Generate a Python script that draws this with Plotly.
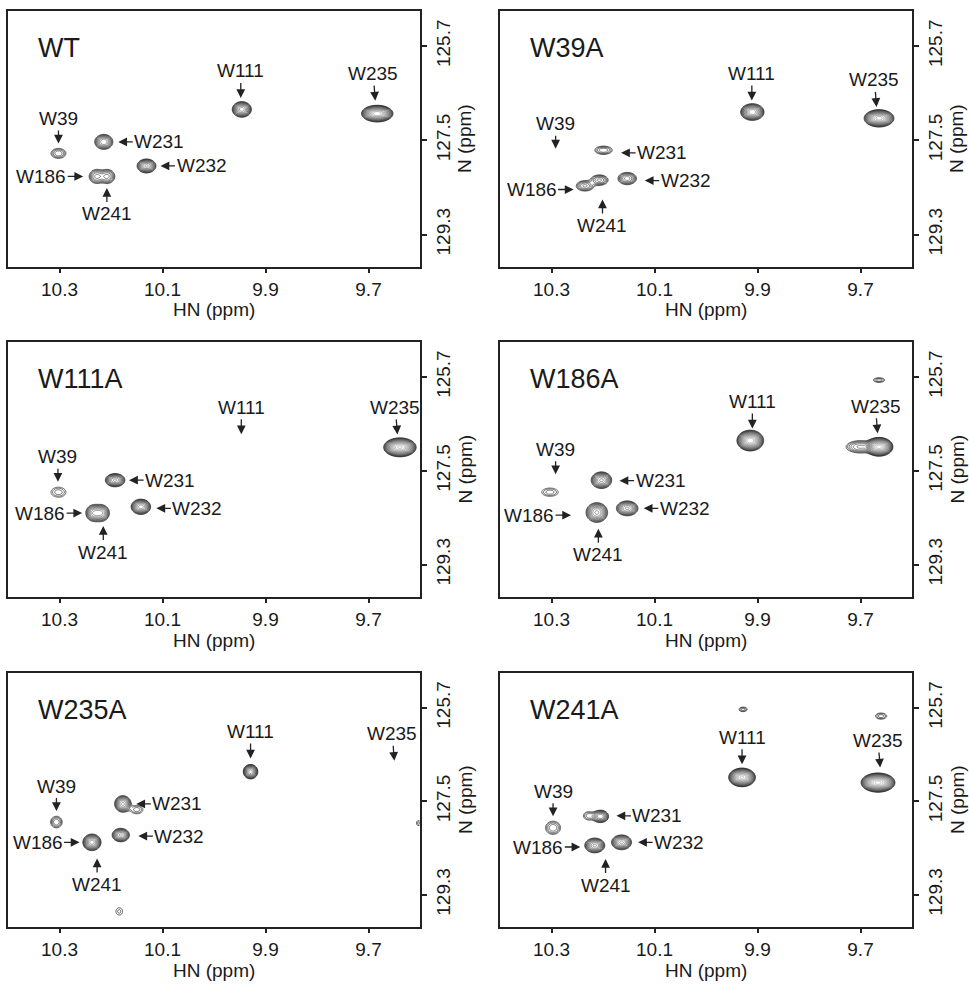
import numpy as np
import plotly.graph_objects as go

# ---------------- data ----------------
HN_TICKS = [10.3, 10.1, 9.9, 9.7]
N_TICKS = [125.7, 127.5, 129.3]
HN_RANGE = [10.4, 9.6]
N_RANGE = [129.92, 125.03]
PANEL_NAMES = ["WT", "W39A", "W111A", "W186A", "W235A", "W241A"]
LABELS = ["W39", "W111", "W186", "W231", "W232", "W235", "W241"]

# label anchor points (HN, N) per panel, in LABELS order
wt_lab_hn = [10.302, 9.948, 10.223, 10.215, 10.133, 9.685, 10.208]
wt_lab_n = [127.75, 126.90, 128.19, 127.53, 127.99, 126.99, 128.18]
w39a_lab_hn = [10.292, 9.911, 10.226, 10.194, 10.148, 9.667, 10.201]
w39a_lab_n = [127.85, 126.95, 128.44, 127.74, 128.27, 127.11, 128.40]
w111a_lab_hn = [10.303, 9.947, 10.225, 10.194, 10.141, 9.642, 10.215]
w111a_lab_n = [127.90, 127.01, 128.31, 127.68, 128.22, 127.05, 128.33]
w186a_lab_hn = [10.292, 9.910, 10.231, 10.197, 10.150, 9.665, 10.209]
w186a_lab_n = [127.76, 126.90, 128.35, 127.69, 128.22, 127.03, 128.38]
w235a_lab_hn = [10.306, 9.929, 10.230, 10.180, 10.176, 9.648, 10.227]
w235a_lab_n = [127.88, 126.89, 128.29, 127.55, 128.17, 126.97, 128.37]
w241a_lab_hn = [10.297, 9.930, 10.213, 10.203, 10.161, 9.660, 10.195]
w241a_lab_n = [127.98, 127.00, 128.38, 127.78, 128.29, 127.10, 128.38]

# observed cross peaks per panel: HN, N, half width HN, half width N, contour levels
wt_hn = [10.302, 9.946, 10.228, 10.207, 10.214, 10.131, 9.683]
wt_n = [127.75, 126.91, 128.19, 128.19, 127.53, 127.99, 126.99]
wt_whn = [0.0145, 0.0187, 0.0145, 0.0145, 0.0177, 0.0184, 0.0306]
wt_wn = [0.096, 0.150, 0.134, 0.134, 0.144, 0.134, 0.160]
wt_lv = [3, 8, 4, 4, 6, 7, 12]

w39a_hn = [9.910, 9.664, 10.199, 10.153, 10.235, 10.207]
w39a_n = [126.96, 127.08, 127.69, 128.23, 128.37, 128.26]
w39a_whn = [0.0227, 0.029, 0.017, 0.018, 0.017, 0.017]
w39a_wn = [0.160, 0.166, 0.080, 0.118, 0.100, 0.100]
w39a_lv = [9, 11, 3, 5, 4, 4]

w111a_hn = [10.302, 9.639, 10.192, 10.142, 10.233, 10.219]
w111a_n = [127.91, 127.05, 127.68, 128.19, 128.31, 128.31]
w111a_whn = [0.0145, 0.0316, 0.019, 0.019, 0.016, 0.016]
w111a_wn = [0.096, 0.182, 0.128, 0.147, 0.160, 0.160]
w111a_lv = [2, 13, 7, 8, 6, 6]

w186a_hn = [10.303, 9.914, 9.664, 9.700, 9.664, 10.203, 10.153, 10.212]
w186a_n = [127.91, 126.92, 127.04, 127.04, 125.76, 127.68, 128.22, 128.30]
w186a_whn = [0.016, 0.026, 0.027, 0.028, 0.011, 0.020, 0.021, 0.021]
w186a_wn = [0.080, 0.200, 0.180, 0.120, 0.045, 0.160, 0.143, 0.190]
w186a_lv = [2, 12, 14, 4, 2, 7, 7, 7]

w235a_hn = [10.306, 9.929, 10.177, 10.150, 10.181, 10.237, 10.184, 9.603]
w235a_n = [127.90, 126.93, 127.55, 127.66, 128.15, 128.29, 129.62, 127.92]
w235a_whn = [0.0113, 0.0142, 0.016, 0.012, 0.0168, 0.0177, 0.0065, 0.004]
w235a_wn = [0.112, 0.140, 0.160, 0.080, 0.130, 0.160, 0.070, 0.050]
w235a_lv = [3, 8, 7, 2, 7, 8, 1, 1]

w241a_hn = [10.297, 9.930, 9.666, 9.928, 9.660, 10.205, 10.228, 10.164, 10.216]
w241a_n = [128.01, 127.04, 127.14, 125.73, 125.86, 127.79, 127.78, 128.29, 128.35]
w241a_whn = [0.0146, 0.026, 0.033, 0.008, 0.011, 0.016, 0.010, 0.0195, 0.0195]
w241a_wn = [0.128, 0.180, 0.185, 0.045, 0.060, 0.120, 0.080, 0.143, 0.143]
w241a_lv = [3, 13, 14, 2, 2, 6, 2, 7, 7]

LABEL_POINTS = [
    (wt_lab_hn, wt_lab_n), (w39a_lab_hn, w39a_lab_n), (w111a_lab_hn, w111a_lab_n),
    (w186a_lab_hn, w186a_lab_n), (w235a_lab_hn, w235a_lab_n), (w241a_lab_hn, w241a_lab_n),
]
PEAKS = [
    (wt_hn, wt_n, wt_whn, wt_wn, wt_lv),
    (w39a_hn, w39a_n, w39a_whn, w39a_wn, w39a_lv),
    (w111a_hn, w111a_n, w111a_whn, w111a_wn, w111a_lv),
    (w186a_hn, w186a_n, w186a_whn, w186a_wn, w186a_lv),
    (w235a_hn, w235a_n, w235a_whn, w235a_wn, w235a_lv),
    (w241a_hn, w241a_n, w241a_whn, w241a_wn, w241a_lv),
]

# ---------------- layout / style ----------------
W, H = 969, 985
COL_X = [(8, 420), (500, 912)]
ROW_Y = [(11, 267), (342, 597), (673, 927)]
FONT = "Liberation Sans, Arial, Helvetica, sans-serif"
INK = "#1a1a1a"
# label text offset (px) and arrow standoff (px)
LABEL_STYLE = {
    "W39": (0, -35, 10), "W111": (0, -38, 11), "W235": (-3, -40, 13),
    "W231": (56, 0, 15), "W232": (56, 0, 15), "W186": (-58, 0, 16),
    "W241": (0, 38, 12),
}
STEP = 0.4       # log-intensity per listed level
LINE_STEP = 0.3  # contour spacing actually drawn (log intensity)

grid_hn = np.round(np.linspace(9.6, 10.4, 401), 4)
grid_n = np.round(np.linspace(125.0, 129.98, 250), 3)
GH, GN = np.meshgrid(grid_hn, grid_n)

fig = go.Figure()
annotations = []
layout_axes = {}

for i, name in enumerate(PANEL_NAMES):
    row, col = divmod(i, 2)
    sfx = "" if i == 0 else str(i + 1)
    xa, ya = "x" + sfx, "y" + sfx
    x0, x1 = COL_X[col]
    y0, y1 = ROW_Y[row]

    hn, n, whn, wn, lv = PEAKS[i]
    z = np.zeros_like(GH)
    for h, nn, wh, wv, lvl in zip(hn, n, whn, wn, lv):
        lnA = STEP * lvl
        sh = wh / np.sqrt(2 * lnA)
        sv = wv / np.sqrt(2 * lnA)
        z += np.exp(lnA - 0.5 * ((GH - h) / sh) ** 2 - 0.5 * ((GN - nn) / sv) ** 2)
    zc = np.clip(np.log(np.maximum(z, 1e-9)), -1.0, None)
    zi = np.round(zc * 100).astype(np.int16)

    fig.add_trace(go.Contour(
        x=grid_hn, y=grid_n, z=zi, xaxis=xa, yaxis=ya,
        contours=dict(start=0, end=800, size=int(LINE_STEP * 100), coloring="lines"),
        line=dict(width=0.65, smoothing=1),
        colorscale=[[0, "#111111"], [0.3, "#4a4a4a"], [1, "#a8a8a8"]],
        zauto=False, zmin=0, zmax=560,
        showscale=False, hoverinfo="skip",
    ))

    layout_axes["xaxis" + sfx] = dict(
        domain=[x0 / W, x1 / W], range=HN_RANGE, anchor=ya,
        tickmode="array", tickvals=HN_TICKS, ticktext=[f"{v:.1f}" for v in HN_TICKS],
        ticks="outside", ticklen=4, tickwidth=1.5, tickcolor="#222",
        showline=True, mirror=True, linewidth=2, linecolor="#222",
        showgrid=False, zeroline=False, automargin=False,
        tickfont=dict(size=19, color=INK, family=FONT),
    )
    layout_axes["yaxis" + sfx] = dict(
        domain=[1 - y1 / H, 1 - y0 / H], range=N_RANGE, anchor=xa, side="right",
        tickmode="array", tickvals=N_TICKS, ticktext=[f"{v:.1f}" for v in N_TICKS],
        ticks="outside", ticklen=5, tickwidth=1.5, tickcolor="#222", tickangle=-90,
        showline=True, mirror=True, linewidth=2, linecolor="#222",
        showgrid=False, zeroline=False, automargin=False,
        tickfont=dict(size=19, color=INK, family=FONT),
    )

    xd, yd = xa + " domain", ya + " domain"
    annotations.append(dict(text=name, xref=xd, yref=yd, x=28 / (x1 - x0), y=1 - 37 / (y1 - y0),
                            xanchor="left", yanchor="middle", showarrow=False,
                            font=dict(size=27, color=INK, family=FONT)))
    annotations.append(dict(text="HN (ppm)", xref=xd, yref=yd, x=0.5, y=0, yshift=-43,
                            xanchor="center", yanchor="middle", showarrow=False,
                            font=dict(size=19, color=INK, family=FONT)))
    annotations.append(dict(text="N (ppm)", xref=xd, yref=yd, x=1, y=0.5, xshift=45,
                            textangle=-90, xanchor="center", yanchor="middle", showarrow=False,
                            font=dict(size=19, color=INK, family=FONT)))

    lab_hn, lab_n = LABEL_POINTS[i]
    for lab, h, nn in zip(LABELS, lab_hn, lab_n):
        axo, ayo, so = LABEL_STYLE[lab]
        annotations.append(dict(
            text=lab, x=h, y=nn, xref=xa, yref=ya, ax=axo, ay=ayo, standoff=so,
            showarrow=True, arrowhead=2, arrowsize=1.35, arrowwidth=1.3, arrowcolor="#222",
            font=dict(size=19, color=INK, family=FONT),
        ))

fig.update_layout(
    width=W, height=H, margin=dict(l=0, r=0, t=0, b=0),
    paper_bgcolor="white", plot_bgcolor="white", showlegend=False,
    font=dict(family=FONT, color=INK),
    annotations=annotations, **layout_axes,
)

# the page's default 8px body margin would shift the figure; remove it
fig.write_html(
    "out.html",
    config={"displayModeBar": False},
    post_script="document.body.style.margin='0';document.body.style.overflow='hidden';",
)
